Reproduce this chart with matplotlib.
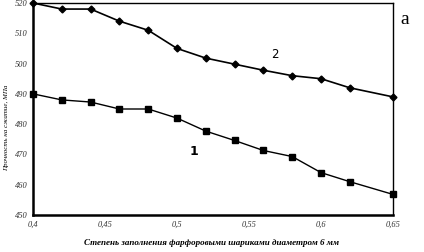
import matplotlib
matplotlib.use("Agg")
import matplotlib.pyplot as plt

x_vals = [0.40, 0.42, 0.44, 0.46, 0.48, 0.50, 0.52, 0.54, 0.56, 0.58, 0.60, 0.62, 0.65]
series1 = [490, 488, 487.3, 485, 485, 482, 477.7, 474.6, 471.3, 469.3, 464, 461, 456.8]
series2 = [520, 518, 518, 514, 511, 505, 501.8, 499.8, 497.8, 496, 495, 492, 489]
x_ticks = [0.40, 0.45, 0.50, 0.55, 0.60, 0.65]
x_tick_labels = ["0,4", "0,45", "0,5", "0,55", "0,6", "0,65"]
y_ticks = [450, 460, 470, 480, 490, 500, 510, 520]
y_tick_labels = ["450", "460", "470", "480", "490", "500", "510", "520"]

fig = plt.figure(figsize=(4.24, 2.52), dpi=100)
ax = fig.add_axes([33/424, 1-215/252, 360/424, 212/252])

ax.plot(x_vals, series1, color="black", lw=1.0, marker="s", ms=4, clip_on=False, zorder=3)
ax.plot(x_vals, series2, color="black", lw=1.2, marker="D", ms=3.5, clip_on=False, zorder=3)

ax.set_xlim(0.40, 0.65)
ax.set_ylim(450, 520)
ax.set_xticks(x_ticks)
ax.set_xticklabels(x_tick_labels)
ax.set_yticks(y_ticks)
ax.set_yticklabels(y_tick_labels)
for lab in ax.get_xticklabels() + ax.get_yticklabels():
    lab.set_fontfamily("Liberation Serif")
    lab.set_fontstyle("italic")
    lab.set_fontsize(6)
    lab.set_color("#333333")
ax.tick_params(length=0, pad=4)

for side in ["left", "bottom"]:
    ax.spines[side].set_linewidth(1.8)
for side in ["right", "top"]:
    ax.spines[side].set_linewidth(1.0)

ax.text(0.568, 503, "2", fontsize=8.5, family="DejaVu Sans", ha="center", va="center")
ax.text(0.512, 471, "1", fontsize=9, family="DejaVu Sans", weight="bold", ha="center", va="center")

fig.text(405/424, 1-20/252, "a", fontsize=14, family="Liberation Serif", ha="center", va="center")
fig.text(7/424, 1-128/252, "Прочность на сжатие, МПа", rotation=90, fontsize=5,
         family="Liberation Serif", style="italic", ha="center", va="center")
fig.text(212/424, 1-243/252, "Степень заполнения фарфоровыми шариками диаметром 6 мм",
         fontsize=6.5, family="Liberation Serif", style="italic", weight="bold",
         ha="center", va="center")

fig.savefig("out.png", dpi=100)
